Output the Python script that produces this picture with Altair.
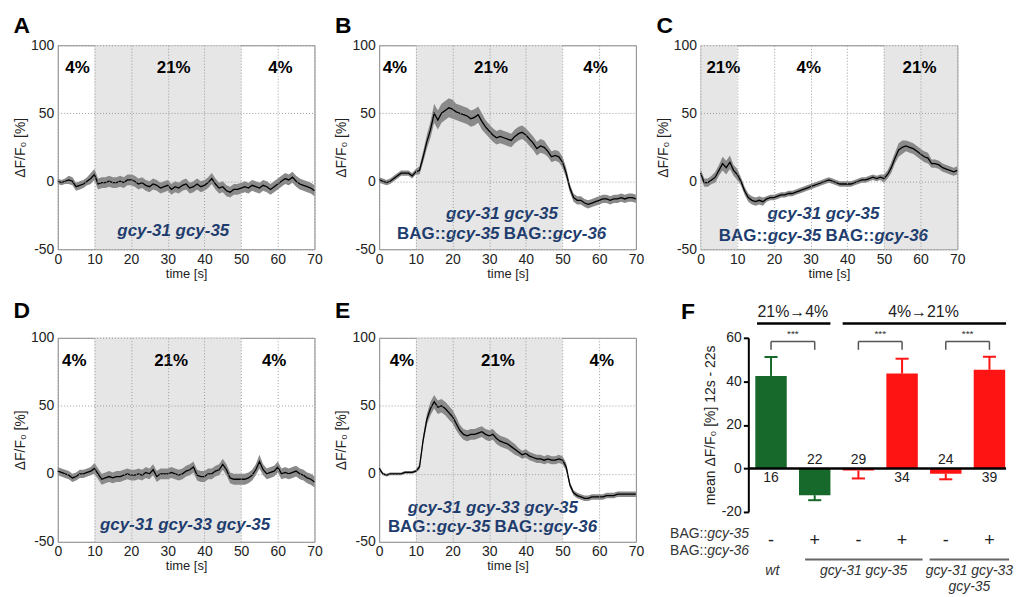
import altair as alt
import pandas as pd

FONT = "Liberation Sans"
BLUE = "#1e3d6e"
GREEN = "#17692b"
RED = "#ff1414"

# ---------------- data: traces (time 0..70 s, 1 s steps) ----------------
t = list(range(71))
x_ticks = [0, 10, 20, 30, 40, 50, 60, 70]
y_ticks = [-50, 0, 50, 100]

mean_A = [0, -1, 0, 1, 0, -4, -3, -2, 0, 2,
          5, -2, -1, -1, 0, -1, -1, 0, -1, 1,
          1, 0, -2, -1, -3, -4, -2, -3, -5, -4,
          -3, -6, -4, -5, -3, -2, -5, -4, -2, -4,
          -3, -1, 2, -2, -5, -4, -7, -8, -6, -6,
          -5, -4, -5, -3, -4, -5, -3, -4, -6, -4,
          -2, 0, 2, 1, 3, 0, -2, -3, -4, -5,
          -7]
sem_A = [2, 2, 2, 3, 3, 3, 3, 3, 3, 4,
         4, 4, 4, 4, 4, 4, 4, 4, 4, 4,
         4, 4, 4, 4, 4, 4, 4, 4, 4, 4,
         4, 4, 4, 4, 4, 4, 4, 4, 4, 4,
         4, 4, 4, 4, 4, 4, 4, 4, 4, 4,
         4, 4, 4, 4, 4, 4, 4, 4, 4, 4,
         4, 4, 4, 4, 4, 4, 4, 4, 4, 4,
         4]

mean_B = [1, 0, -1, 0, 2, 4, 6, 6, 6, 4,
          7, 8, 18, 29, 38, 50, 45, 50, 52, 54,
          53, 51, 50, 49, 48, 46, 47, 49, 44, 40,
          37, 34, 32, 33, 32, 31, 30, 33, 35, 36,
          34, 31, 28, 24, 26, 25, 22, 18, 19, 18,
          14, 6, -5, -12, -14, -14, -16, -17, -16, -15,
          -14, -13, -13, -14, -13, -13, -12, -13, -12, -12,
          -13]
sem_B = [2, 2, 2, 2, 2, 2, 2, 2, 2, 2,
         2, 3, 4, 5, 6, 7, 7, 7, 7, 7,
         7, 6, 6, 6, 6, 6, 6, 6, 6, 5,
         5, 5, 5, 5, 5, 5, 5, 5, 5, 5,
         5, 5, 5, 5, 5, 5, 4, 4, 4, 4,
         4, 4, 3, 3, 3, 3, 3, 3, 3, 3,
         3, 3, 3, 3, 3, 3, 3, 3, 3, 3,
         3]

mean_C = [6, -1, -1, 1, 3, 8, 13, 10, 14, 8,
          5, 0, -7, -12, -14, -15, -14, -15, -13, -12,
          -12, -11, -10, -10, -9, -9, -8, -7, -6, -5,
          -4, -3, -2, -1, 0, 1, 0, -1, -2, -2,
          -2, -2, -1, 0, 1, 1, 2, 3, 2, 3,
          2, 5, 10, 17, 23, 25, 26, 25, 24, 22,
          20, 18, 17, 13, 13, 12, 10, 9, 8, 7,
          8]
sem_C = [3, 3, 3, 3, 4, 4, 5, 5, 5, 4,
         4, 3, 3, 3, 3, 3, 3, 3, 2, 2,
         2, 2, 2, 2, 2, 2, 2, 2, 2, 2,
         2, 2, 2, 2, 2, 2, 2, 2, 2, 2,
         2, 2, 2, 2, 2, 2, 2, 2, 2, 2,
         3, 3, 4, 4, 5, 5, 4, 4, 4, 4,
         4, 4, 4, 3, 3, 3, 3, 3, 3, 3,
         3]

mean_D = [2, 1, 0, -1, -3, -2, 0, 0, 1, 2,
          4, 0, -4, -3, -2, -3, -2, -2, -1, 0,
          -1, -1, 0, -1, 1, 0, 3, -2, 0, 0,
          0, 1, 0, -1, 0, 2, 3, 5, -1, -2,
          -2, 0, 0, 2, 3, 7, 3, -3, -4, -4,
          -4, -4, -3, -1, 3, 9, 3, 0, 1, 2,
          5, 0, 1, 0, 1, 2, 0, -1, -3, -4,
          -6]
sem_D = [3, 3, 3, 3, 3, 3, 3, 3, 3, 3,
         4, 4, 4, 4, 4, 4, 4, 4, 4, 4,
         4, 4, 4, 4, 4, 4, 4, 4, 4, 4,
         4, 4, 4, 4, 4, 4, 4, 4, 4, 4,
         4, 4, 4, 4, 4, 4, 4, 4, 4, 4,
         4, 4, 4, 4, 4, 5, 4, 4, 4, 4,
         4, 4, 4, 4, 4, 4, 4, 4, 4, 4,
         4]

mean_E = [4, 0, -1, 0, 0, 0, 0, 1, 1, 1,
          2, 5, 25, 40, 48, 53, 49, 50, 48, 45,
          42, 37, 32, 29, 28, 29, 29, 30, 31, 29,
          28, 29, 26, 24, 23, 22, 20, 18, 16, 14,
          15, 13, 12, 11, 11, 10, 11, 10, 10, 11,
          10, 5, -8, -14, -16, -17, -18, -18, -17, -17,
          -17, -17, -16, -16, -16, -15, -15, -15, -15, -15,
          -15]
sem_E = [2, 1, 1, 1, 1, 1, 1, 1, 1, 1,
         1, 2, 3, 4, 5, 5, 5, 5, 5, 5,
         5, 5, 4, 4, 4, 4, 4, 4, 4, 4,
         4, 4, 4, 4, 4, 4, 4, 4, 3, 3,
         3, 3, 3, 3, 3, 3, 3, 3, 3, 3,
         3, 3, 2, 2, 2, 2, 2, 2, 2, 2,
         2, 2, 2, 2, 2, 2, 2, 2, 2, 2,
         2]

# stimulus periods (21% O2 shaded)
shade_ABDE = [(10, 50)]
shade_C = [(0, 10), (50, 70)]

# ---------------- data: bar panel F ----------------
f_pos = [1, 2, 3, 4, 5, 6]
f_mean = [42.5, -12.3, -1.0, 43.6, -2.4, 45.3]
f_err = [8.7, 2.3, 3.6, 6.8, 2.6, 6.0]
f_n = ["16", "22", "29", "34", "24", "39"]
f_color = [GREEN, GREEN, RED, RED, RED, RED]
f_pm = ["-", "+", "-", "+", "-", "+"]

PLAIN_LABEL = "'' + datum.value"


def text_layer(rows, xax, yax, **kw):
    df = pd.DataFrame(rows, columns=["x", "y", "label"])
    return alt.Chart(df).mark_text(font=FONT, **kw).encode(
        x=alt.X("x:Q", axis=xax), y=alt.Y("y:Q", axis=yax), text="label:N")


def trace_panel(letter, mean, sem, shades, pcts, centre, plain_right, italic_left, toff):
    xs = alt.Scale(domain=[0, 70], nice=False, zero=False)
    ys = alt.Scale(domain=[-50, 100], nice=False, zero=False)
    common = dict(grid=True, gridDash=[1, 2], gridColor="#9a9a9a", gridWidth=1,
                  domain=False, ticks=False, labelFont=FONT, labelFontSize=14,
                  labelColor="#222222", titleFont=FONT,
                  titleFontWeight="normal", titleColor="#222222", zindex=1,
                  labelFlush=False, labelOverlap=False, labelExpr=PLAIN_LABEL)
    xax = alt.Axis(values=x_ticks, title="time [s]", labelPadding=3, titlePadding=1,
                   titleFontSize=13, **common)
    yax = alt.Axis(values=y_ticks, title="ΔF/F₀ [%]", labelPadding=4, titlePadding=3,
                   titleFontSize=14, **common)

    df = pd.DataFrame({"t": t, "m": mean,
                       "lo": [m - s for m, s in zip(mean, sem)],
                       "hi": [m + s for m, s in zip(mean, sem)]})
    sdf = pd.DataFrame(shades, columns=["a", "b"])
    shade = alt.Chart(sdf).mark_rect(color="#e6e6e6").encode(
        x=alt.X("a:Q", scale=xs, axis=xax), x2="b:Q",
        y=alt.Y(datum=-50, scale=ys, axis=yax), y2=alt.Y2(datum=100))
    band = alt.Chart(df).mark_area(color="#8a8a8a", opacity=1).encode(
        x=alt.X("t:Q", scale=xs, axis=xax), y=alt.Y("lo:Q", scale=ys, axis=yax), y2="hi:Q")
    line = alt.Chart(df).mark_line(color="black", strokeWidth=1.3).encode(
        x=alt.X("t:Q", axis=xax), y=alt.Y("m:Q", axis=yax))
    layers = [shade, band, line,
              text_layer(pcts, xax, yax, fontSize=17, fontWeight="bold", color="black")]
    layers.append(text_layer(centre, xax, yax, fontSize=17, fontWeight="bold",
                             fontStyle="italic", color=BLUE, align="center",
                             baseline="middle"))
    if plain_right:
        layers.append(text_layer(plain_right, xax, yax, fontSize=17, fontWeight="bold",
                                 color=BLUE, align="right", baseline="middle"))
        layers.append(text_layer(italic_left, xax, yax, fontSize=17, fontWeight="bold",
                                 fontStyle="italic", color=BLUE, align="left",
                                 baseline="middle"))
    return alt.layer(*layers).properties(
        width=258, height=205,
        title=alt.TitleParams(letter, anchor="start", fontSize=23, fontWeight="bold",
                              font=FONT, color="black", offset=toff),
        view=alt.ViewBackground(stroke="#888888", strokeWidth=1))


PY = 83
pA = trace_panel("A", mean_A, sem_A, shade_ABDE,
                 [(5.4, PY, "4%"), (31.6, PY, "21%"), (60.7, PY, "4%")],
                 [(31.5, -36.8, "gcy-31 gcy-35")], None, None, 0)
pB = trace_panel("B", mean_B, sem_B, shade_ABDE,
                 [(4.3, PY, "4%"), (30.5, PY, "21%"), (59, PY, "4%")],
                 [(33.5, -24.4, "gcy-31 gcy-35")],
                 [(18.2, -39, "BAG::"), (47.3, -39, "BAG::")],
                 [(18.2, -39, "gcy-35"), (47.3, -39, "gcy-36")], 0)
pC = trace_panel("C", mean_C, sem_C, shade_C,
                 [(6.2, PY, "21%"), (29.5, PY, "4%"), (59.7, PY, "21%")],
                 [(33.5, -24.4, "gcy-31 gcy-35")],
                 [(18.3, -40, "BAG::"), (47.4, -40, "BAG::")],
                 [(18.3, -40, "gcy-35"), (47.4, -40, "gcy-36")], 0)
pD = trace_panel("D", mean_D, sem_D, shade_ABDE,
                 [(4.5, PY, "4%"), (30.9, PY, "21%"), (59, PY, "4%")],
                 [(34.7, -37.6, "gcy-31 gcy-33 gcy-35")], None, None, 8)
pE = trace_panel("E", mean_E, sem_E, shade_ABDE,
                 [(6.2, PY, "4%"), (32.4, PY, "21%"), (60.7, PY, "4%")],
                 [(31.0, -25, "gcy-31 gcy-33 gcy-35")],
                 [(15.7, -39, "BAG::"), (44.8, -39, "BAG::")],
                 [(15.7, -39, "gcy-35"), (44.8, -39, "gcy-36")], 8)

# ---------------- panel F ----------------
fx = alt.Scale(domain=[-0.613, 6.38], nice=False, zero=False)
fy = alt.Scale(domain=[-20, 60], nice=False, zero=False)
fyax = alt.Axis(values=[-20, 0, 20, 40, 60], title="mean ΔF/F₀ [%] 12s - 22s",
                offset=-48, domainColor="black", domainWidth=2, tickColor="black",
                tickWidth=2, tickSize=5, labelFontSize=14, labelColor="#222222",
                labelFont=FONT, titleFont=FONT, titleFontSize=14, titleFontWeight="normal",
                titleColor="#222222", labelPadding=2, titlePadding=4, grid=False,
                labelOverlap=False, labelExpr=PLAIN_LABEL)
NOAX = None

bdf = pd.DataFrame({
    "pos": f_pos, "mean": f_mean, "col": f_color, "n": f_n,
    "x0": [p - 0.36 for p in f_pos], "x1": [p + 0.36 for p in f_pos],
    "c0": [p - 0.15 for p in f_pos], "c1": [p + 0.15 for p in f_pos],
    "base": [0] * 6,
    "end": [m + (e if m > 0 else -e) for m, e in zip(f_mean, f_err)],
    "ny": [-4.5 if m > 0 else 3.8 for m in f_mean],
})
bars = alt.Chart(bdf).mark_bar().encode(
    x=alt.X("x0:Q", scale=fx, axis=NOAX), x2="x1:Q",
    y=alt.Y("mean:Q", scale=fy, axis=fyax), y2="base:Q",
    color=alt.Color("col:N", scale=None))
err = alt.Chart(bdf).mark_rule(strokeWidth=2).encode(
    x=alt.X("pos:Q", axis=NOAX), y=alt.Y("mean:Q", axis=fyax), y2="end:Q",
    color=alt.Color("col:N", scale=None))
caps = alt.Chart(bdf).mark_rule(strokeWidth=2).encode(
    x=alt.X("c0:Q", axis=NOAX), x2="c1:Q", y=alt.Y("end:Q", axis=fyax),
    color=alt.Color("col:N", scale=None))
nlab = alt.Chart(bdf).mark_text(font=FONT, fontSize=14, color="#222222").encode(
    x=alt.X("pos:Q", axis=NOAX), y=alt.Y("ny:Q", axis=fyax), text="n:N")

seg_cols = ["x", "x2", "y", "y2"]


def seg_layer(rows, color, width):
    return alt.Chart(pd.DataFrame(rows, columns=seg_cols)).mark_rule(
        color=color, strokeWidth=width).encode(
        x=alt.X("x:Q", axis=NOAX), x2="x2:Q", y=alt.Y("y:Q", axis=fyax), y2="y2:Q")


def ftext(rows, **kw):
    return text_layer(rows, NOAX, fyax, **kw)


zero_line = seg_layer([(0.48, 6.38, 0, 0)], "black", 2.5)
brackets = []
for a in (1, 3, 5):
    brackets += [(a, a + 1, 58.3, 58.3), (a, a, 58.3, 54.5), (a + 1, a + 1, 58.3, 54.5)]
br = seg_layer(brackets, "#555555", 1.5)
stars = ftext([(1.5, 61.8, "***"), (3.5, 61.8, "***"), (5.5, 61.8, "***")],
              fontSize=10, color="#333333")
hdr_lines = seg_layer([(0.68, 2.36, 66.6, 66.6), (2.64, 6.38, 66.6, 66.6)], "black", 2.5)
hdr = ftext([(1.5, 71.9, "21%→4%"), (4.49, 71.9, "4%→21%")], fontSize=16, color="#222222")
pm = ftext([(p, -33.2, s) for p, s in zip(f_pos, f_pm)], fontSize=18, color="#222222")
bag_plain = ftext([(-0.46, -30.3, "BAG::"), (-0.46, -38.1, "BAG::")],
                  fontSize=14, color="#333333", align="right")
bag_ital = ftext([(-0.46, -30.3, "gcy-35"), (-0.46, -38.1, "gcy-36")],
                 fontSize=14, color="#333333", align="left", fontStyle="italic")
geno = ftext([(1.03, -47.3, "wt"), (3.12, -47.3, "gcy-31 gcy-35"),
              (5.54, -47.3, "gcy-31 gcy-33"), (5.54, -54.6, "gcy-35")],
             fontSize=14, color="#333333", fontStyle="italic")
grp_lines = seg_layer([(1.78, 4.47, -41.8, -41.8), (4.63, 6.45, -41.8, -41.8)], "#666666", 2)

pF = alt.layer(bars, err, caps, zero_line, nlab, br, stars, hdr_lines, hdr,
               pm, bag_plain, bag_ital, geno, grp_lines).properties(
    width=307, height=175,
    title=alt.TitleParams("F", anchor="start", fontSize=23, fontWeight="bold",
                          font=FONT, color="black", offset=8, dx=11, dy=28),
    view=alt.ViewBackground(stroke="transparent"))

chart = alt.concat(pA, pB, pC, pD, pE, pF, columns=3,
                   spacing={"row": 89, "column": 65},
                   bounds="flush", align="each").properties(
    padding={"left": 5, "top": 5, "right": 2, "bottom": 0}
).configure(font=FONT)

chart.save("out.html", embed_options={"renderer": "svg", "actions": False})
